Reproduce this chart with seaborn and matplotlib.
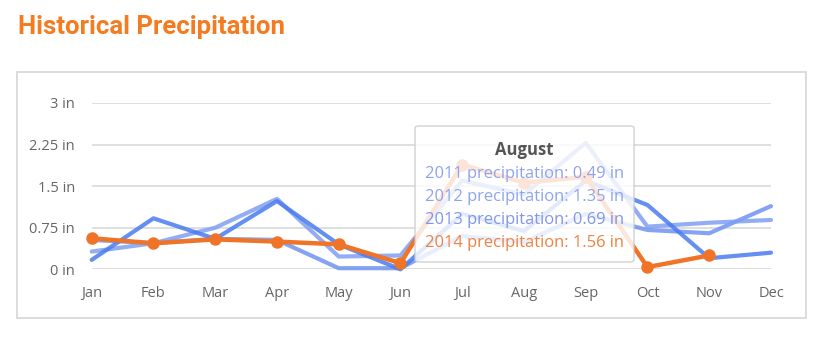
import numpy as np
import pandas as pd
import matplotlib
matplotlib.use("Agg")
import matplotlib.pyplot as plt
import seaborn as sns
from matplotlib.patches import FancyBboxPatch, Rectangle

months = ["Jan", "Feb", "Mar", "Apr", "May", "Jun", "Jul", "Aug", "Sep", "Oct", "Nov", "Dec"]
precip_2011 = [0.53, 0.47, 0.55, 0.53, 0.02, 0.02, 0.60, 0.49, 1.00, 0.71, 0.65, 1.14]
precip_2012 = [0.32, 0.47, 0.75, 1.27, 0.23, 0.25, 1.60, 1.35, 2.28, 0.77, 0.84, 0.89]
precip_2013 = [0.17, 0.92, 0.55, 1.23, 0.45, 0.00, 1.00, 0.69, 1.60, 1.16, 0.20, 0.30]
precip_2014 = [0.56, 0.47, 0.54, 0.50, 0.45, 0.11, 1.89, 1.56, 1.67, 0.04, 0.25, np.nan]
y_ticks = [0, 0.75, 1.5, 2.25, 3]
y_tick_labels = ["0 in", "0.75 in", "1.5 in", "2.25 in", "3 in"]
tooltip_month = "August"
tooltip_idx = 7

sns.set_theme(style="white")
plt.rcParams["font.family"] = ["Open Sans", "DejaVu Sans"]

fig = plt.figure(figsize=(8.2, 3.37), dpi=100)
fig.patch.set_facecolor("white")

# outer frame
fig.add_artist(Rectangle((17 / 820, 1 - 318 / 337), (806 - 17) / 820, (318 - 72) / 337,
                         transform=fig.transFigure, fill=False, edgecolor="#d6d6d6", lw=1.2))

ax = fig.add_axes([91.7 / 820, 1 - 269.3 / 337, (771 - 91.7) / 820, (269.3 - 103) / 337])
ax.set_facecolor("none")

x = np.arange(len(months))
series = [
    ("2011", precip_2011, "#6f93f0", 0.85),
    ("2012", precip_2012, "#7f9ff2", 0.85),
    ("2013", precip_2013, "#4a7bee", 0.85),
]
for name, vals, col, a in series:
    df = pd.DataFrame({"x": x, "y": vals})
    sns.lineplot(data=df, x="x", y="y", ax=ax, color=col, lw=3, alpha=a, clip_on=False,
                 zorder=2)
df14 = pd.DataFrame({"x": x, "y": precip_2014})
sns.lineplot(data=df14, x="x", y="y", ax=ax, color="#f07428", lw=3.2, marker="o",
             markersize=9, markeredgewidth=0, clip_on=False, zorder=3)

ax.set_xlim(0, 11)
ax.set_ylim(0, 3)
ax.set_yticks(y_ticks)
ax.set_yticklabels(y_tick_labels)
ax.set_xticks(x)
ax.set_xticklabels(months)
ax.set_xlabel("")
ax.set_ylabel("")
for t in y_ticks:
    ax.axhline(t, color="#d9d9d9", lw=1.2, zorder=1)
for s in ax.spines.values():
    s.set_visible(False)
ax.tick_params(axis="y", length=0, pad=12, labelsize=10.5, labelcolor="#666666")
ax.tick_params(axis="x", length=0, pad=12, labelsize=10.5, labelcolor="#666666")

# tooltip
box_l, box_r, box_t, box_b = 415, 634, 126, 262
def fx(px):
    return px / 820
def fy(py):
    return 1 - py / 337
fig.add_artist(FancyBboxPatch((fx(box_l), fy(box_b)), fx(box_r) - fx(box_l), fy(box_t) - fy(box_b),
                              boxstyle="round,pad=0,rounding_size=0.006", transform=fig.transFigure,
                              facecolor="white", alpha=0.82, edgecolor="#c8c8c8", lw=1.0, zorder=10))
cx = fx((box_l + box_r) / 2)
fig.text(cx, fy(150), tooltip_month, ha="center", va="center", fontsize=12, fontweight="bold",
         color="#555555", zorder=11)
tips = [
    ("2011", precip_2011[tooltip_idx], "#8fa3ee"),
    ("2012", precip_2012[tooltip_idx], "#8ea4ee"),
    ("2013", precip_2013[tooltip_idx], "#8196e8"),
    ("2014", precip_2014[tooltip_idx], "#ee8240"),
]
for i, (name, v, col) in enumerate(tips):
    fig.text(cx, fy(174 + 23 * i), f"{name} precipitation: {v:.2f} in", ha="center", va="center",
             fontsize=11.9, color=col, zorder=11)

fig.text(18 / 820, fy(27), "Historical Precipitation", ha="left", va="center",
         fontsize=18.5, fontweight="bold", color="#f47b20",
         family=["Roboto", "DejaVu Sans"])

fig.savefig("out.png", dpi=100)
